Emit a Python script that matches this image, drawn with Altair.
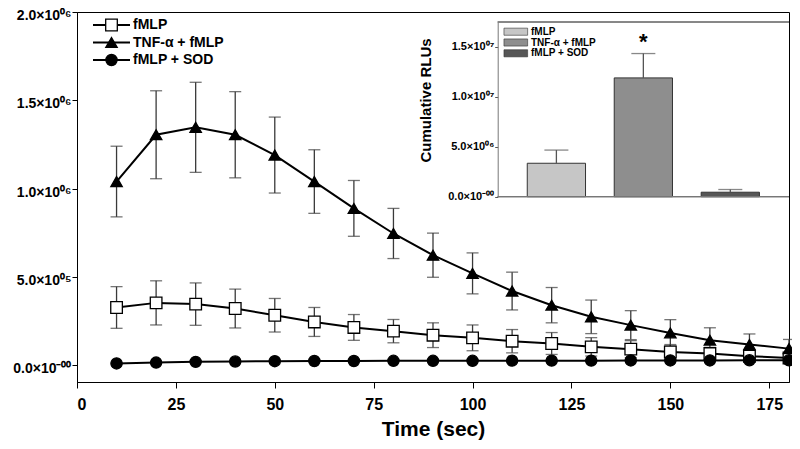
import altair as alt
import pandas as pd

# ---------------- data ----------------
times = [10, 20, 30, 40, 50, 60, 70, 80, 90, 100, 110, 120, 130, 140, 150, 160, 170, 180]
series = ["fMLP", "TNF-\u03b1 + fMLP", "fMLP + SOD"]

fmlp_mean = [327000, 353000, 346000, 321000, 283000, 245000, 214000, 193000, 170000, 155000,
             136000, 123000, 104000, 91000, 75000, 66000, 51000, 41000]
fmlp_err = [118000, 125000, 120000, 110000, 95000, 82000, 73000, 66000, 70000, 73000,
            66000, 62000, 52000, 48000, 42000, 35000, 30000, 28000]
tnf_mean = [1040000, 1305000, 1347000, 1305000, 1190000, 1040000, 888000, 746000, 623000, 520000,
            420000, 340000, 274000, 227000, 183000, 142000, 117000, 94000]
tnf_err = [200000, 249000, 255000, 244000, 215000, 180000, 158000, 142000, 125000, 116000,
           107000, 100000, 95000, 82000, 75000, 70000, 60000, 52000]
sod_mean = [10000, 15000, 19000, 21000, 23000, 24000, 24000, 25000, 25000, 25000,
            26000, 26000, 26000, 27000, 27000, 27000, 28000, 28000]
sod_err = [4000, 4000, 4000, 4000, 4000, 4000, 4000, 4000, 4000, 4000,
           4000, 4000, 4000, 4000, 4000, 4000, 4000, 4000]

# inset (cumulative RLUs)
bar_values = [3350000, 11900000, 450000]
bar_errors = [1320000, 2440000, 270000]
bar_marks = ["", "*", ""]
bar_colors = ["#c6c6c6", "#8e8e8e", "#565656"]

main_y_ticks = [0, 500000, 1000000, 1500000, 2000000]
main_x_ticks = [0, 25, 50, 75, 100, 125, 150, 175]
inset_y_ticks = [0, 5000000, 10000000, 15000000]

# ---------------- tables ----------------
rows = []
for name, m, e in zip(series, [fmlp_mean, tnf_mean, sod_mean], [fmlp_err, tnf_err, sod_err]):
    for t, mv, ev in zip(times, m, e):
        rows.append({"series": name, "time": t, "mean": mv, "lo": mv - ev, "hi": mv + ev})
df = pd.DataFrame(rows)

df_bar = pd.DataFrame({"cond": series, "val": bar_values,
                       "top": [v + e for v, e in zip(bar_values, bar_errors)],
                       "star": bar_marks})
df_leg = pd.DataFrame({"series": series})

FONT = "Liberation Sans"

# plot area: 712 x 370 ; inset placed inside in pixel coords
W, H = 712, 370
INS_L, INS_R, INS_T, INS_B = 420.7, 712, 10, 184.7

main_lbl = ("datum.value == 0 ? '0.0\u00d710\u207b\u2070\u2070' : "
            "datum.value == 500000 ? '5.0\u00d710\u2070\u2075' : "
            "datum.value == 1000000 ? '1.0\u00d710\u2070\u2076' : "
            "datum.value == 1500000 ? '1.5\u00d710\u2070\u2076' : '2.0\u00d710\u2070\u2076'")
ins_lbl = ("datum.value == 0 ? '0.0\u00d710\u207b\u2070\u2070' : "
           "datum.value == 5000000 ? '5.0\u00d710\u2070\u2076' : "
           "datum.value == 10000000 ? '1.0\u00d710\u2070\u2077' : '1.5\u00d710\u2070\u2077'")

x_main = alt.X("time:Q",
               scale=alt.Scale(domain=[0, 180], nice=False, zero=False),
               axis=alt.Axis(values=main_x_ticks, title="Time (sec)", format="d",
                             labelFontSize=16, labelFontWeight="bold", labelPadding=8,
                             tickSize=6, tickColor="black", domainColor="black",
                             titleFontSize=21, titleFontWeight="bold", titlePadding=6,
                             grid=False, labelFont=FONT, titleFont=FONT))
y_scale = alt.Scale(domain=[-95000, 2000000], nice=False, zero=False)
y_axis = alt.Axis(values=main_y_ticks, labelExpr=main_lbl, title=None,
                  labelFontSize=14, labelFontWeight="bold", labelPadding=1, labelOffset=3.5,
                  tickSize=5, tickColor="black", domainColor="black", grid=False,
                  labelFont=FONT)

shape_enc = alt.Shape("series:N", scale=alt.Scale(domain=series, range=["square", "triangle-up", "circle"]), legend=None)
fill_enc = alt.Fill("series:N", scale=alt.Scale(domain=series, range=["white", "black", "black"]), legend=None)
size_enc = alt.Size("series:O", scale=alt.Scale(domain=series, range=[135, 125, 110]), legend=None)

base = alt.Chart(df)
err_rule = base.mark_rule(color="#3a3a3a", strokeWidth=1.3).encode(
    x=x_main, y=alt.Y("lo:Q", scale=y_scale, axis=y_axis), y2="hi:Q")
cap_lo = base.mark_tick(orient="horizontal", size=12, thickness=1.3, color="#3a3a3a").encode(
    x=x_main, y=alt.Y("lo:Q", scale=y_scale, axis=y_axis))
cap_hi = base.mark_tick(orient="horizontal", size=12, thickness=1.3, color="#3a3a3a").encode(
    x=x_main, y=alt.Y("hi:Q", scale=y_scale, axis=y_axis))
lines = base.mark_line(color="black", strokeWidth=2).encode(
    x=x_main, y=alt.Y("mean:Q", scale=y_scale, axis=y_axis), detail="series:N")
points = base.mark_point(filled=False, stroke="black", strokeWidth=1.3, opacity=1).encode(
    x=x_main, y=alt.Y("mean:Q", scale=y_scale, axis=y_axis),
    shape=shape_enc, fill=fill_enc, size=size_enc)
main = alt.layer(err_rule, cap_lo, cap_hi, lines, points)

# ---------------- inset ----------------
x_ins = alt.X("cond:N", sort=series,
              scale=alt.Scale(domain=series, range=[INS_L, INS_R], paddingInner=0.33, paddingOuter=0.34),
              axis=None)
y_ins_scale = alt.Scale(domain=[0, 17500000], range=[INS_B, INS_T], nice=False, zero=False)
y_ins_axis = alt.Axis(orient="left", offset=-INS_L, values=inset_y_ticks, labelExpr=ins_lbl,
                      title="Cumulative RLUs", titleFontSize=15, titleFontWeight="bold",
                      titleX=-72, titleY=88, titleBaseline="middle", titleAngle=-90,
                      labelFontSize=11, labelFontWeight="bold", labelPadding=1,
                      tickSize=3, tickColor="#555555", domainColor="#777777", grid=False,
                      labelFont=FONT, titleFont=FONT)
color_ins = alt.Color("cond:N", scale=alt.Scale(domain=series, range=bar_colors), legend=None)

bbase = alt.Chart(df_bar)
bars = bbase.mark_bar(stroke="#333333", strokeWidth=1).encode(
    x=x_ins, y=alt.Y("val:Q", scale=y_ins_scale, axis=y_ins_axis), color=color_ins)
bar_err = bbase.mark_rule(color="#555555", strokeWidth=1.3).encode(
    x=x_ins, y=alt.Y("val:Q", scale=y_ins_scale, axis=y_ins_axis), y2="top:Q")
bar_cap = bbase.mark_tick(orient="horizontal", size=24, thickness=1.3, color="#555555").encode(
    x=x_ins, y=alt.Y("top:Q", scale=y_ins_scale, axis=y_ins_axis))
star = bbase.mark_text(fontSize=22, fontWeight="bold", font=FONT, dy=0, baseline="bottom").encode(
    x=x_ins, y=alt.Y("top:Q", scale=y_ins_scale, axis=y_ins_axis), text="star:N")
ins_top = alt.Chart(df_leg).mark_rule(color="#777777", strokeWidth=1).encode(
    x=alt.value(INS_L), x2=alt.value(INS_R), y=alt.value(INS_T))
ins_bot = alt.Chart(df_leg).mark_rule(color="#777777", strokeWidth=1).encode(
    x=alt.value(INS_L), x2=alt.value(INS_R), y=alt.value(INS_B))
inset = alt.layer(bars, bar_err, bar_cap, star, ins_top, ins_bot)

# ---------------- legends ----------------
y_leg = alt.Y("series:N", scale=alt.Scale(type="point", domain=series, range=[13, 48], padding=0), axis=None)
lbase = alt.Chart(df_leg)
leg_line = lbase.mark_rule(color="black", strokeWidth=2).encode(
    x=alt.value(16), x2=alt.value(53), y=y_leg)
leg_pt = lbase.mark_point(filled=False, stroke="black", strokeWidth=1.3, opacity=1).encode(
    x=alt.value(34.5), y=y_leg, shape=shape_enc, fill=fill_enc, size=size_enc)
leg_txt = lbase.mark_text(align="left", baseline="middle", fontSize=14, fontWeight="bold", font=FONT).encode(
    x=alt.value(56), y=y_leg, text="series:N")
leg_main = alt.layer(leg_line, leg_pt, leg_txt)

y_leg2 = alt.Y("cond:N", scale=alt.Scale(type="point", domain=series, range=[19.7, 41.3], padding=0), axis=None)
ibase = alt.Chart(df_bar)
leg2_sw = ibase.mark_point(filled=True, shape="M-1,-0.3H1V0.3H-1Z", size=560, opacity=1,
                           stroke="#333333", strokeWidth=0.6).encode(
    x=alt.value(438.8), y=y_leg2, color=color_ins)
leg2_txt = ibase.mark_text(align="left", baseline="middle", fontSize=10, fontWeight="bold", font=FONT).encode(
    x=alt.value(454), y=y_leg2, text="cond:N")
leg_ins = alt.layer(leg2_sw, leg2_txt)

chart = alt.layer(main, inset, leg_main, leg_ins).resolve_scale(
    x="independent", y="independent"
).properties(
    width=W, height=H,
    autosize=alt.AutoSizeParams(type="none"),
    padding={"left": 69, "top": 4, "right": 3, "bottom": 60},
    background="white",
).configure_view(stroke="black", strokeWidth=1).configure_axis(labelColor="black", titleColor="black")

chart.save("out.html", embed_options={"renderer": "svg", "actions": False})
